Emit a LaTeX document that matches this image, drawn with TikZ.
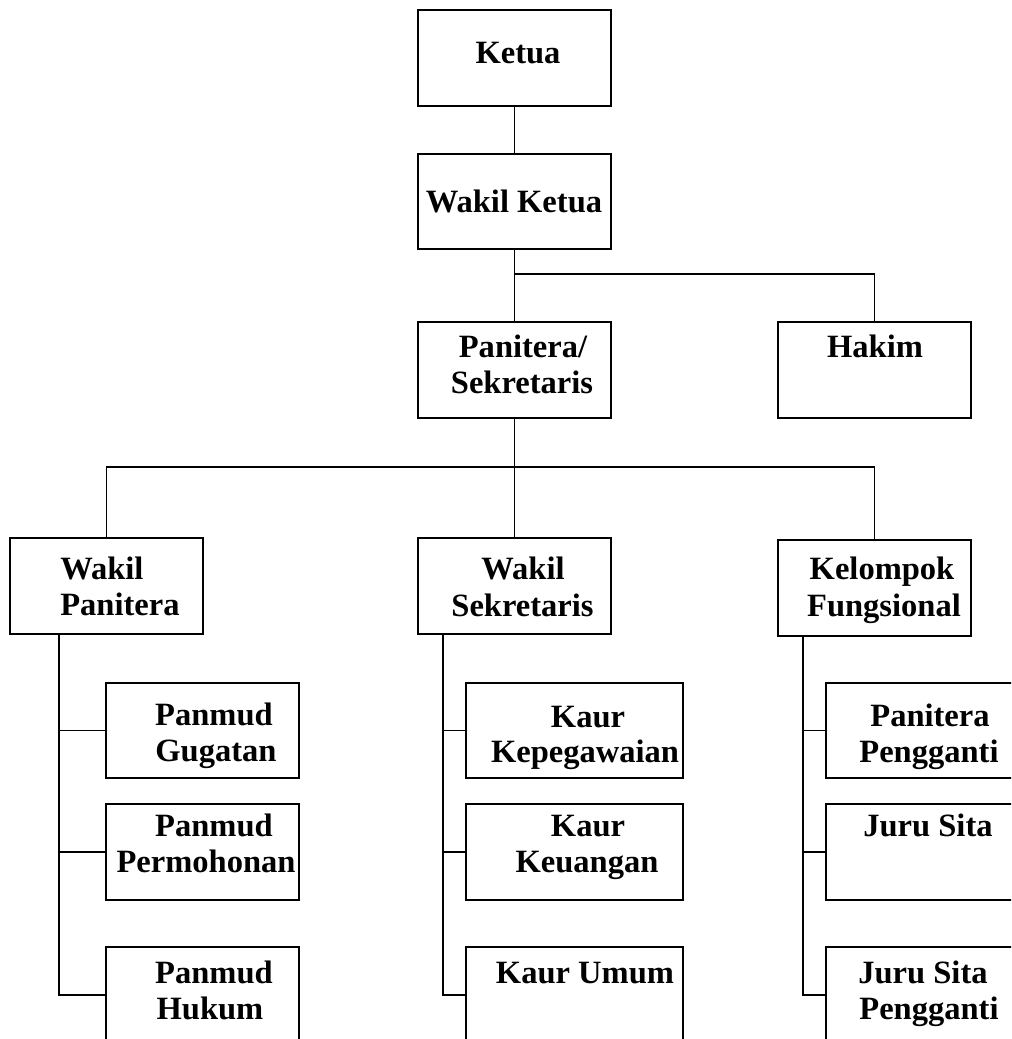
\documentclass[tikz,border=0pt]{standalone}
\usepackage{fontspec}
\setmainfont{Liberation Serif}
\begin{document}
\begin{tikzpicture}[x=0.75pt,y=-0.75pt,
  box/.style={draw,line width=1.4pt,rectangle,inner sep=0pt},
  lbl/.style={inner sep=0pt,anchor=base,font=\fontsize{24.4}{27}\selectfont\bfseries},
  lblw/.style={lbl,anchor=base west},
  conn/.style={line width=1.4pt}]
\useasboundingbox (0,0) rectangle (1011,1039);
\clip (0,0) rectangle (1011,1039);
\fill[white] (0,0) rectangle (1011,1039);
% boxes
\newcommand{\orgbox}[5]{\node[box,minimum width={(#4-#2)*0.75pt},minimum height={(#5-#3)*0.75pt}] (#1) at ({(#2+#4)/2},{(#3+#5)/2}) {};}
\orgbox{ketua}{418}{10}{611}{106}
\orgbox{wketua}{418}{154}{611}{249}
\orgbox{panit}{418}{322}{611}{418}
\orgbox{hakim}{778}{322}{971}{418}
\orgbox{wpan}{10}{538}{203}{634}
\orgbox{wsek}{418}{538}{611}{634}
\orgbox{kel}{778}{540}{971}{636}
\orgbox{gug}{106}{683}{299}{778}
\orgbox{perm}{106}{804}{299}{900}
\orgbox{huk}{106}{947}{299}{1043}
\orgbox{kkep}{466}{683}{683}{778}
\orgbox{kkeu}{466}{804}{683}{900}
\orgbox{kum}{466}{947}{683}{1043}
\orgbox{pp}{826}{683}{1043}{778}
\orgbox{js}{826}{804}{1043}{900}
\orgbox{jsp}{826}{947}{1043}{1043}
% labels
\node[lbl] (t1) at (518,63) {Ketua};
\node[lbl] (t2) at (514,212) {Wakil Ketua};
\node[lbl] (t3a) at (523,357) {Panitera/};
\node[lbl] (t3b) at (522,393) {Sekretaris};
\node[lbl] (t4) at (875,357) {Hakim};
\node[lblw] (t5a) at (60,579) {Wakil};
\node[lblw] (t5b) at (60,615) {Panitera};
\node[lbl] (t6a) at (523,579) {Wakil};
\node[lbl] (t6b) at (522.5,616) {Sekretaris};
\node[lbl] (t7a) at (882,579) {Kelompok};
\node[lbl] (t7b) at (884,616) {Fungsional};
\node[lbl] (t8a) at (214,725) {Panmud};
\node[lbl] (t8b) at (216,761) {Gugatan};
\node[lbl] (t9a) at (214,836) {Panmud};
\node[lbl] (t9b) at (206,872) {Permohonan};
\node[lbl] (t10a) at (214,983) {Panmud};
\node[lbl] (t10b) at (210,1019) {Hukum};
\node[lbl] (t11a) at (588,727) {Kaur};
\node[lbl] (t11b) at (585,762) {Kepegawaian};
\node[lbl] (t12a) at (588,836) {Kaur};
\node[lbl] (t12b) at (587,872) {Keuangan};
\node[lbl] (t13) at (585,983) {Kaur Umum};
\node[lbl] (t14a) at (930,726) {Panitera};
\node[lbl] (t14b) at (929,762) {Pengganti};
\node[lbl] (t15) at (928,836) {Juru Sita};
\node[lbl] (t16a) at (923,983) {Juru Sita};
\node[lbl] (t16b) at (929,1019) {Pengganti};
% connectors
\coordinate (j1) at (515,274);
\coordinate (j2) at (515,467);
\coordinate (wpanb) at (59,634);
\coordinate (wsekb) at (443,634);
\coordinate (kelb) at (803,636);
\draw[conn] (ketua.south) -- (wketua.north);
\draw[conn] (wketua.south) -- (panit.north);
\draw[conn] (j1) -| (hakim.north);
\draw[conn] (panit.south) -- (wsek.north);
\draw[conn] (wpan.north) |- (j2) -| (kel.north);
\draw[conn] (wpanb) |- (gug.west);
\draw[conn] (wpanb) |- (perm.west);
\draw[conn] (wpanb) |- (huk.west);
\draw[conn] (wsekb) |- (kkep.west);
\draw[conn] (wsekb) |- (kkeu.west);
\draw[conn] (wsekb) |- (kum.west);
\draw[conn] (kelb) |- (pp.west);
\draw[conn] (kelb) |- (js.west);
\draw[conn] (kelb) |- (jsp.west);
\end{tikzpicture}
\end{document}
